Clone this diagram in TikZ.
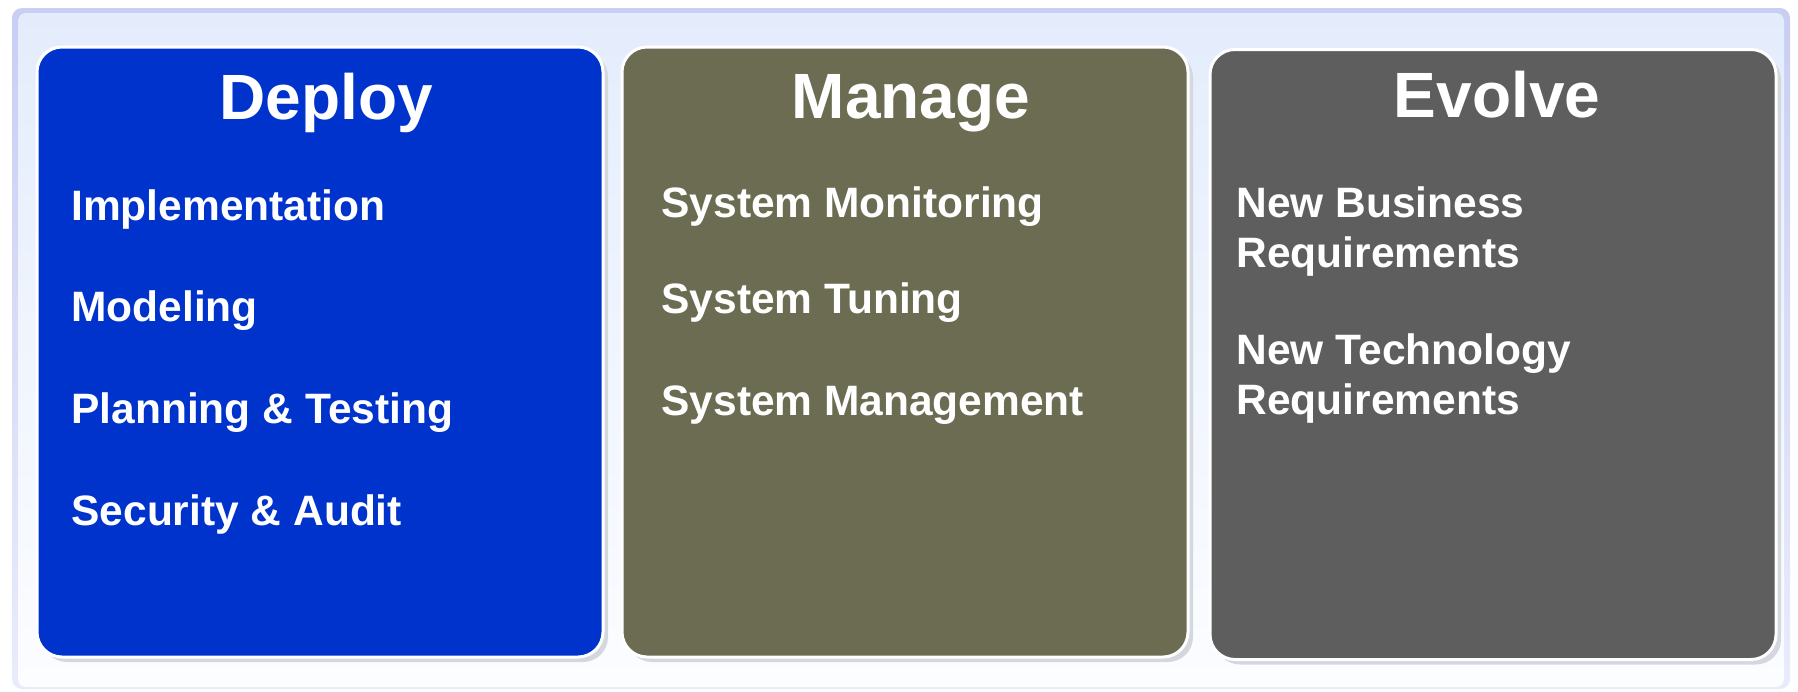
\documentclass[tikz,border=0pt]{standalone}
\usepackage{fontspec}
\setmainfont{Liberation Sans}
\usetikzlibrary{shadows}
\definecolor{deployblue}{RGB}{0,51,204}
\definecolor{manageolive}{RGB}{108,108,82}
\definecolor{evolvegrey}{RGB}{94,94,94}
\definecolor{shadowgrey}{RGB}{212,216,222}
\definecolor{frameedge}{RGB}{200,206,244}
\definecolor{framebottom}{RGB}{232,236,250}
\definecolor{frametop}{RGB}{228,236,252}
\definecolor{framebot}{RGB}{252,253,255}
\begin{document}
\begin{tikzpicture}[x=0.5pt,y=-0.5pt,
  panel/.style={rectangle, rounded corners=12.5pt, draw=white, line width=1.5pt,
    minimum width=283pt, minimum height=305pt, inner sep=0pt,
    drop shadow={shadow xshift=2.5pt, shadow yshift=-2.5pt, fill=shadowgrey, opacity=1}},
  title/.style={text=white, font=\fontsize{32}{38}\selectfont\bfseries, anchor=base, inner sep=0pt},
  item/.style={text=white, font=\fontsize{21.25}{25}\selectfont\bfseries, anchor=base west, inner sep=0pt}]
\useasboundingbox (0,0) rectangle (1798,691);
\fill[white] (0,0) rectangle (1798,691);
\shade[top color=frameedge, bottom color=framebottom, rounded corners=5pt] (12,8) rectangle (1790,689);
\shade[top color=frametop, bottom color=framebot, rounded corners=4pt] (18,13) rectangle (1784,687);

\node[panel, fill=deployblue] (deploy) at (320,352) {};
\node[panel, fill=manageolive] (manage) at (905,352) {};
\node[panel, fill=evolvegrey] (evolve) at (1493,354.5) {};

\node[title] (tdeploy) at (326,119) {Deploy};
\node[title] (tmanage) at (911,118) {Manage};
\node[title] (tevolve) at (1497,117) {Evolve};

\node[item] (d1) at (71,220) {Implementation};
\node[item] (d2) at (71,321) {Modeling};
\node[item] (d3) at (71,423) {Planning \& Testing};
\node[item] (d4) at (71,525) {Security \& Audit};

\node[item] (m1) at (661,217) {System Monitoring};
\node[item] (m2) at (661,313) {System Tuning};
\node[item] (m3) at (661,415) {System Management};

\node[item] (e1a) at (1236,217) {New Business};
\node[item] (e1b) at (1236,267) {Requirements};
\node[item] (e2a) at (1236,364) {New Technology};
\node[item] (e2b) at (1236,414) {Requirements};
\end{tikzpicture}
\end{document}
